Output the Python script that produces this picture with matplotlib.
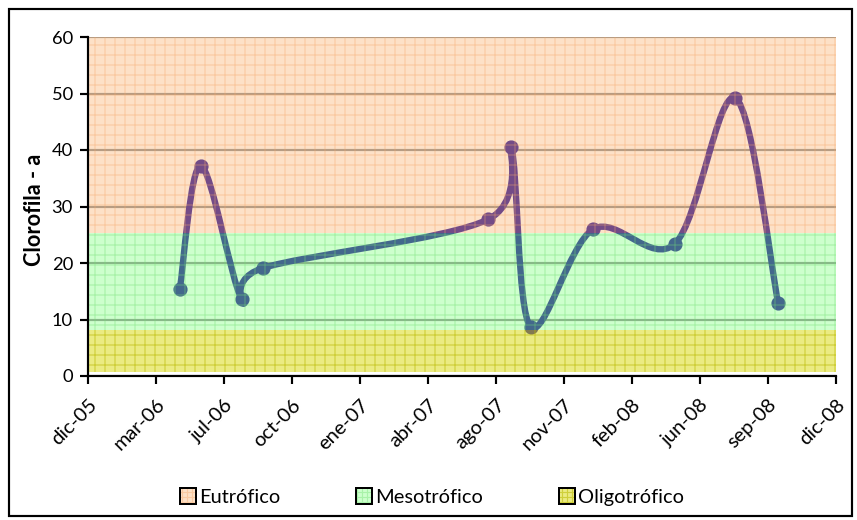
import datetime as dt
import matplotlib
matplotlib.use('Agg')
import matplotlib.pyplot as plt
import matplotlib.dates as mdates
from matplotlib.path import Path
from matplotlib.patches import PathPatch, Patch, Rectangle

# muestreos de clorofila-a
fechas = ['2006-04-29', '2006-05-30', '2006-07-29', '2006-08-29', '2007-07-26',
          '2007-08-29', '2007-09-27', '2007-12-28', '2008-04-26', '2008-07-24',
          '2008-09-25']
clorofila = [15.4, 37.2, 13.6, 19.1, 27.7, 40.6, 8.7, 26.0, 23.4, 49.2, 12.9]

# limites de los estados troficos
limites = [0.7, 8.2, 25.3, 60]
estados = ['Oligotrófico', 'Mesotrófico', 'Eutrófico']
fondos = [(0.86, 0.86, 0.11, 0.55), (0.51, 1.0, 0.51, 0.4), (0.98, 0.71, 0.46, 0.4)]
rejillas = [(0.72, 0.72, 0.0, 0.55), (0.45, 0.88, 0.45, 0.4), (0.96, 0.66, 0.42, 0.4)]

etiquetas_x = ['dic-05', 'mar-06', 'jul-06', 'oct-06', 'ene-07', 'abr-07',
               'ago-07', 'nov-07', 'feb-08', 'jun-08', 'sep-08', 'dic-08']
inicio = dt.date(2005, 12, 15)
paso_dias = 100

plt.rcParams['font.family'] = ['Lato', 'DejaVu Sans']
plt.rcParams['hatch.linewidth'] = 0.7

fig = plt.figure(figsize=(857 / 120, 520 / 120), dpi=120)
ax = fig.add_axes([88 / 857, 1 - 376 / 520, (836 - 88) / 857, (376 - 37) / 520])

x = mdates.date2num([dt.date.fromisoformat(f) for f in fechas])
y = clorofila

# linea suavizada (Catmull-Rom pasada a Bezier cubica)
verts = [(x[0], y[0])]
codes = [Path.MOVETO]
n = len(x)
for i in range(n - 1):
    a = max(i - 1, 0)
    b = min(i + 2, n - 1)
    c1 = (x[i] + (x[i + 1] - x[a]) / 6, y[i] + (y[i + 1] - y[a]) / 6)
    c2 = (x[i + 1] - (x[b] - x[i]) / 6, y[i + 1] - (y[b] - y[i]) / 6)
    verts += [c1, c2, (x[i + 1], y[i + 1])]
    codes += [Path.CURVE4] * 3
color_linea = (0.1, 0.02, 0.58)
ax.add_patch(PathPatch(Path(verts, codes), fill=False, lw=3.8, edgecolor=color_linea,
                       capstyle='round', joinstyle='round', zorder=2))
ax.plot(x, y, 'o', ms=7.5, color=color_linea, zorder=3)

# bandas de estado trofico por encima de la serie
for i in range(3):
    ax.axhspan(limites[i], limites[i + 1], facecolor=fondos[i], edgecolor=rejillas[i],
               hatch='++', lw=0, zorder=4)

ax.set_ylim(0, 60)
ax.set_yticks(range(0, 61, 10))
ticks = [inicio + dt.timedelta(days=paso_dias * k) for k in range(len(etiquetas_x))]
ax.set_xlim(ticks[0], ticks[-1])
ax.set_xticks(ticks)
ax.set_xticklabels(etiquetas_x, rotation=45, ha='right', rotation_mode='anchor')

ax.yaxis.grid(True, color='#8c8c8c', lw=1.3, zorder=1)
ax.set_axisbelow(True)
for s in ['top', 'right']:
    ax.spines[s].set_visible(False)
for s in ['left', 'bottom']:
    ax.spines[s].set_linewidth(1.3)
    ax.spines[s].set_zorder(6)
ax.tick_params(axis='both', direction='out', length=5, width=1.3)
ax.tick_params(axis='y', pad=4, labelsize=11)
ax.tick_params(axis='x', pad=7, labelsize=12)
ax.set_ylabel('Clorofila - a', fontsize=13, fontweight='bold')
ax.yaxis.set_label_coords(-0.058, 0.49)

# leyenda
manejadores = []
for i in [2, 1, 0]:
    relleno = Patch(facecolor=fondos[i], edgecolor=rejillas[i], hatch='++++', lw=0)
    borde = Patch(facecolor='none', edgecolor='black', lw=1.2)
    manejadores.append((relleno, borde))
fig.legend(manejadores, [estados[i] for i in [2, 1, 0]], loc='center',
           bbox_to_anchor=(432 / 857, 1 - 497 / 520), ncol=3, frameon=False,
           fontsize=12, handlelength=0.8, handleheight=0.8, handletextpad=0.15,
           columnspacing=3.8)

# marco exterior
fig.patches.append(Rectangle((9 / 857, 4 / 520), (852 - 9) / 857, (516 - 9) / 520,
                             transform=fig.transFigure, fill=False, lw=1.3,
                             edgecolor='black'))

fig.savefig('out.png', dpi=120)
